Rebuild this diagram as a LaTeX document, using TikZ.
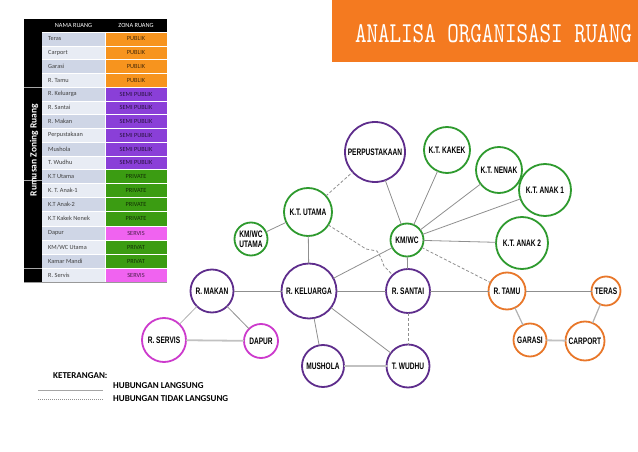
\documentclass[tikz,border=0pt]{standalone}
\usepackage{graphicx}
\usepackage{fontspec}
\setmainfont{Carlito}
\newfontfamily\nodefont[FakeStretch=0.7]{Liberation Sans}
\definecolor{torange}{HTML}{F47A20}
\definecolor{zpub}{HTML}{F7941E}
\definecolor{zsemi}{HTML}{8A3FD8}
\definecolor{zpriv}{HTML}{3B9C12}
\definecolor{zserv}{HTML}{F063F0}
\definecolor{rowA}{HTML}{CFD6E6}
\definecolor{rowB}{HTML}{E8ECF4}
\definecolor{cpurple}{HTML}{5E2D8C}
\definecolor{cgreen}{HTML}{2E9A2E}
\definecolor{cmag}{HTML}{CC3ACC}
\definecolor{corange}{HTML}{E8772A}
\definecolor{edgec}{HTML}{8F8F8F}
\tikzset{
  solidedge/.style={draw=edgec, line width=0.8},
  softedge/.style={draw=edgec!55, line width=1.8},
  dashedge/.style={draw=edgec, line width=0.8, dash pattern=on 3pt off 2pt},
  room/.style={circle, draw, fill=white, line width=1.8, inner sep=0pt, outer sep=0pt,
    align=center, font=\nodefont\bfseries\fontsize{9.4}{9.4}\selectfont},
  purp/.style={room, draw=cpurple},
  gren/.style={room, draw=cgreen},
  magn/.style={room, draw=cmag},
  oran/.style={room, draw=corange},
  celltext/.style={inner sep=0pt, font=\fontsize{6.3}{7}\selectfont},
  legtext/.style={inner sep=0pt, anchor=west, font=\bfseries\fontsize{9}{10}\selectfont},
}
\begin{document}
\begin{tikzpicture}[x=1pt,y=-1pt]
\useasboundingbox (0,0) rectangle (638,452);
% ---------- title ----------
\fill[torange] (332,0) rectangle (638,62);
\node[text=white, inner sep=0pt] (title) at (493.5,34)
  {\resizebox{277pt}{18pt}{\ttfamily ANALISA ORGANISASI RUANG}};
% ---------- table ----------
\fill[black] (24,19) rectangle (167,32);
\fill[black] (24,19) rectangle (42,282);
\node[celltext, text=white] (hname) at (73.5,25.7) {NAMA RUANG};
\node[celltext, text=white] (hzone) at (136,25.7) {ZONA RUANG};
\foreach \i/\t/\b/\nm/\zn/\zc/\rc in {
  1/32/46/Teras/PUBLIK/zpub/rowA,
  2/46/59.5/Carport/PUBLIK/zpub/rowB,
  3/59.5/73.5/Garasi/PUBLIK/zpub/rowA,
  4/73.5/87.5/R. Tamu/PUBLIK/zpub/rowB,
  5/87.5/101/R. Keluarga/SEMI PUBLIK/zsemi/rowA,
  6/101/114.5/R. Santai/SEMI PUBLIK/zsemi/rowB,
  7/114.5/128.5/R. Makan/SEMI PUBLIK/zsemi/rowA,
  8/128.5/142/Perpustakaan/SEMI PUBLIK/zsemi/rowB,
  9/142/156/Mushola/SEMI PUBLIK/zsemi/rowA,
  10/156/169.5/T. Wudhu/SEMI PUBLIK/zsemi/rowB,
  11/169.5/183.5/K.T Utama/PRIVATE/zpriv/rowA,
  12/183.5/197/K. T.  Anak-1/PRIVATE/zpriv/rowB,
  13/197/211/K.T Anak-2/PRIVATE/zpriv/rowA,
  14/211/226/K.T Kakek Nenek/PRIVATE/zpriv/rowB,
  15/226/240/Dapur/SERVIS/zserv/rowA,
  16/240/254/{KM/WC Utama}/PRIVAT/zpriv/rowB,
  17/254/268.5/Kamar Mandi/PRIVAT/zpriv/rowA,
  18/268.5/282/R. Servis/SERVIS/zserv/rowB}{
  \fill[\rc] (42,\t) rectangle (105,\b);
  \fill[\zc] (105,\t) rectangle (167,\b);
  \draw[white, line width=0.8] (42,\t) -- (167,\t);
  \node[celltext, anchor=west, text=black!75] (n\i) at (48,{(\t+\b)/2}) {\nm};
  \node[celltext, text=\zc!30!black] (z\i) at (136,{(\t+\b)/2}) {\zn};
}
\draw[white, line width=0.8] (105,32) -- (105,282);
\draw[black!40, line width=0.5] (24,282) -- (167,282);
\foreach \y in {87.5,180,268.5} \draw[black!35, line width=0.6] (24,\y) -- (42,\y);
\node[rotate=90, text=white, inner sep=0pt, font=\bfseries\fontsize{9.5}{10}\selectfont] (rzr) at (34,150) {Rumusan Zoning Ruang};
% ---------- rooms ----------
\node[purp, minimum size=60] (perpus) at (375,152) {PERPUSTAKAAN};
\node[gren, minimum size=46] (kakek) at (447,150) {K.T. KAKEK};
\node[gren, minimum size=46] (nenak) at (499,170) {K.T. NENAK};
\node[gren, minimum size=52] (anak1) at (545,190) {K.T. ANAK 1};
\node[gren, minimum size=52] (anak2) at (522,243) {K.T. ANAK 2};
\node[gren, minimum size=48] (ktutama) at (308,212) {K.T. UTAMA};
\node[gren, minimum size=33] (kmutama) at (251,239) {KM/WC\\UTAMA};
\node[gren, minimum size=33] (kmwc) at (407,240) {KM/WC};
\node[purp, minimum size=55] (kel) at (309,291) {R. KELUARGA};
\node[purp, minimum size=44] (santai) at (408,291) {R. SANTAI};
\node[purp, minimum size=43] (makan) at (212,291) {R. MAKAN};
\node[magn, minimum size=44] (servis) at (164,340) {R. SERVIS};
\node[magn, minimum size=34] (dapur) at (261,341) {DAPUR};
\node[purp, minimum size=42] (mushola) at (323,366) {MUSHOLA};
\node[purp, minimum size=43] (wudhu) at (408,366) {T. WUDHU};
\node[oran, minimum size=37] (tamu) at (507,291) {R. TAMU};
\node[oran, minimum size=29] (teras) at (606,291) {TERAS};
\node[oran, minimum size=33] (garasi) at (530,340) {GARASI};
\node[oran, minimum size=39] (carport) at (585,341) {CARPORT};
% ---------- connectors ----------
\draw[solidedge] (perpus) -- (kmwc);
\draw[solidedge] (kakek) -- (kmwc);
\draw[solidedge] (nenak) -- (kmwc);
\draw[solidedge] (anak1) -- (kmwc);
\draw[solidedge] (anak2) -- (kmwc);
\draw[dashedge] (kmwc) -- (tamu);
\draw[dashedge] (ktutama) -- (perpus);
\draw[solidedge] (ktutama) -- (kmutama);
\draw[solidedge] (ktutama) -- (kel);
\coordinate (w1) at (366,249);
\coordinate (w2) at (377,251);
\coordinate (w3) at (381,258);
\coordinate (w4) at (384,266);
\draw[dashedge] (ktutama) -- (w1) -- (w2) -- (w3) -- (w4) -- (santai);
\draw[solidedge] (kmwc) -- (kel);
\draw[solidedge] (kmwc) -- (santai);
\draw[solidedge] (kel) -- (santai);
\draw[solidedge] (santai) -- (tamu);
\draw[solidedge] (makan) -- (kel);
\draw[dashedge] (santai) -- (wudhu);
\draw[solidedge] (kel) -- (mushola);
\draw[solidedge] (kel) -- (wudhu);
\draw[softedge] (mushola) -- (wudhu);
\draw[solidedge, draw=edgec!70] (makan) -- (servis);
\draw[solidedge] (makan) -- (dapur);
\draw[softedge] (servis) -- (dapur);
\draw[solidedge] (tamu) -- (teras);
\draw[solidedge, draw=edgec!70, line width=1.2] (tamu) -- (garasi);
\draw[softedge] (garasi) -- (carport);
\draw[solidedge, draw=edgec!70, line width=1.2] (carport) -- (teras);
% ---------- legend ----------
\node[legtext] (ket) at (53,376) {KETERANGAN:};
\coordinate (l1a) at (38,390);
\coordinate (l1b) at (103,390);
\coordinate (l2a) at (38,399);
\coordinate (l2b) at (103,399);
\draw[draw=edgec!80, line width=0.6] (l1a) -- (l1b);
\draw[draw=edgec, line width=0.6, dash pattern=on 1pt off 1pt] (l2a) -- (l2b);
\node[legtext] (leg1) at (113,386) {HUBUNGAN LANGSUNG};
\node[legtext] (leg2) at (113,399) {HUBUNGAN TIDAK LANGSUNG};
\end{tikzpicture}
\end{document}
